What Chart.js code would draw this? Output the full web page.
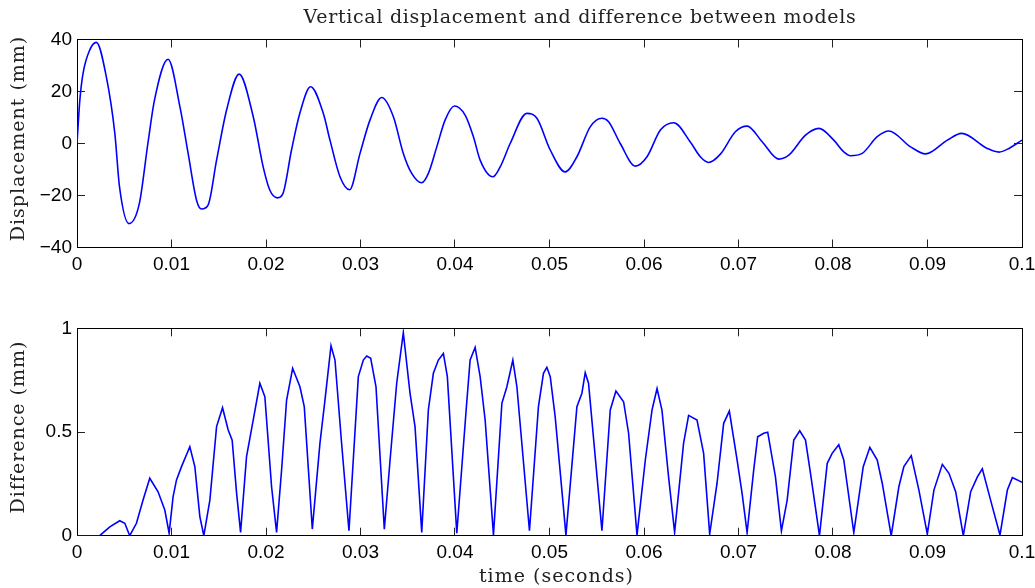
<!DOCTYPE html>
<html>
<head>
<meta charset="utf-8">
<script src="https://cdn.jsdelivr.net/npm/chart.js@4.4.1/dist/chart.umd.min.js"></script>
<style>
  html, body { margin: 0; padding: 0; background: #ffffff; }
  body { width: 1035px; height: 588px; position: relative; overflow: hidden; }
  #c1 { position: absolute; left: 0; top: 0; }
  #c2 { position: absolute; left: 0; top: 300px; }
</style>
</head>
<body>
<canvas id="c1" width="1035" height="292"></canvas>
<canvas id="c2" width="1035" height="288"></canvas>
<script>
// ---------- data ----------
const dispTime = [0,0.0003,0.00064,0.00135,0.00205,0.0031,0.004,0.0045,0.0055,0.0066,0.0075,0.0082,0.00964,0.0109,0.01176,0.01265,0.01318,0.01387,0.01477,0.01583,0.01716,0.01865,0.0197,0.0204,0.0212,0.0218,0.0227,0.02358,0.02472,0.02606,0.02677,0.02783,0.02885,0.02995,0.031,0.03225,0.03348,0.03453,0.03542,0.03648,0.03718,0.03807,0.03895,0.03994,0.04107,0.04195,0.04266,0.044,0.04478,0.04584,0.0476,0.04867,0.05008,0.05166,0.0529,0.05431,0.05555,0.05625,0.05749,0.05908,0.06032,0.06173,0.06314,0.0649,0.06596,0.06684,0.06808,0.06967,0.07091,0.0725,0.07426,0.07532,0.07709,0.0785,0.08008,0.08114,0.08185,0.08309,0.08468,0.08591,0.08821,0.0898,0.0921,0.09361,0.09633,0.09756,0.09862,0.1];
const dispValue = [0,16.7,27,36,38.9,25.7,4,-16.7,-30.8,-23,0,16.7,32.4,14,-3.8,-21.8,-25.2,-23.7,-6.4,12.9,26.7,10.3,-9,-17.9,-20.9,-19.2,-2.5,11.6,21.8,11.6,1.3,-12.8,-17.8,-3.8,9,17.7,10.3,-3.8,-11.5,-15.1,-11.5,-1.3,9,14.4,10.9,2.6,-6.4,-12.8,-9,0,11.6,9.7,-2.5,-10.9,-5.1,6.4,9.7,8.4,0,-8.7,-5.1,5.2,8,0.6,-5.1,-7.3,-4.1,4.5,6.7,0.7,-6,-4.5,3.2,5.8,1.3,-3.2,-4.7,-3.8,2.6,4.8,-1.3,-4,1.3,3.9,-1.9,-3.3,-1.9,1.3];

const diffTime = [0,0.0024,0.00347,0.00452,0.00506,0.00558,0.00629,0.00699,0.0077,0.00858,0.00929,0.00975,0.01017,0.01053,0.01106,0.01194,0.01247,0.013,0.01342,0.01406,0.01477,0.0154,0.016,0.01642,0.01689,0.01731,0.01794,0.01865,0.01935,0.01988,0.02059,0.02112,0.02165,0.02218,0.02282,0.02359,0.02405,0.0249,0.02571,0.02624,0.02688,0.0273,0.028,0.02878,0.02977,0.0303,0.03066,0.03108,0.03164,0.03252,0.03313,0.03383,0.03453,0.03524,0.03577,0.03648,0.03718,0.03771,0.03824,0.03877,0.03919,0.04019,0.04118,0.0416,0.04213,0.04266,0.04319,0.04407,0.04496,0.04549,0.04612,0.04655,0.04788,0.04883,0.04936,0.04972,0.05008,0.0506,0.05174,0.0529,0.05343,0.05378,0.05413,0.05555,0.05643,0.05703,0.05784,0.05837,0.05926,0.06014,0.06085,0.06138,0.0619,0.0626,0.06324,0.06419,0.06472,0.06561,0.06631,0.06695,0.06773,0.06843,0.06903,0.06985,0.07038,0.07091,0.07161,0.07203,0.07267,0.07309,0.07391,0.07454,0.07515,0.07585,0.07648,0.07709,0.07762,0.07857,0.07939,0.07991,0.08061,0.08114,0.0822,0.0832,0.0839,0.08468,0.08521,0.08616,0.08697,0.0875,0.08828,0.08909,0.08998,0.09068,0.09157,0.09227,0.09298,0.09379,0.09457,0.09528,0.0958,0.09686,0.09767,0.09845,0.09898,0.09951,0.1];
const diffValue = [0,0,0.043,0.072,0.06,0,0.06,0.172,0.277,0.212,0.124,0.012,0.188,0.269,0.333,0.429,0.333,0.092,0,0.172,0.526,0.617,0.51,0.461,0.204,0.016,0.381,0.558,0.735,0.67,0.236,0.016,0.317,0.654,0.807,0.718,0.622,0.032,0.446,0.654,0.916,0.847,0.446,0.024,0.767,0.847,0.866,0.855,0.718,0.031,0.365,0.735,0.979,0.687,0.526,0.016,0.606,0.783,0.847,0.879,0.767,0.012,0.606,0.847,0.908,0.767,0.558,0.003,0.638,0.718,0.847,0.718,0.024,0.622,0.783,0.812,0.767,0.574,0.003,0.622,0.687,0.786,0.735,0.024,0.606,0.698,0.646,0.494,0.003,0.365,0.606,0.709,0.606,0.284,0.016,0.446,0.58,0.558,0.397,0.008,0.253,0.542,0.601,0.365,0.204,0.015,0.317,0.477,0.494,0.499,0.284,0.023,0.172,0.461,0.506,0.461,0.301,0,0.349,0.397,0.439,0.365,0.015,0.333,0.426,0.365,0.253,0,0.236,0.333,0.386,0.22,0.008,0.22,0.344,0.301,0.212,0,0.212,0.284,0.323,0.14,0.003,0.22,0.28,0.269,0.257];

const xTickValues = [0,0.01,0.02,0.03,0.04,0.05,0.06,0.07,0.08,0.09,0.1];
const xTickLabels = ['0','0.01','0.02','0.03','0.04','0.05','0.06','0.07','0.08','0.09','0.1'];
const dispTickValues = [-40,-20,0,20,40];
const dispTickLabels = ['\u221240','\u221220','0','20','40'];
const diffTickValues = [0,0.5,1];
const diffTickLabels = ['0','0.5','1'];

const titleText = 'Vertical displacement and difference between models';
const dispAxisTitle = 'Displacement (mm)';
const diffAxisTitle = 'Difference (mm)';
const timeAxisTitle = 'time (seconds)';

// ---------- styling ----------
const SERIF = "'DejaVu Serif', serif";
const SANS = "'Liberation Sans', Arial, Helvetica, sans-serif";
const SERIF_SIZE = 19;
const TITLE_SPACING = '0.7px';
const AXIS_SPACING = '1px';
const TITLE_SHIFT_X = 69;   // the reference title sits right of centre
const Y_TITLE_SHIFT = -5;   // y titles sit a little above centre
const X_TITLE_SHIFT = 7;
const TICK_COLOR = '#222222';

const spacingPlugin = {
  id: 'spacing',
  afterLayout(chart) {
    const ctx = chart.ctx;
    const tb = chart.titleBlock;
    if (tb && !tb._spaced) {
      const d = tb.draw.bind(tb);
      tb.draw = function (a) { ctx.save(); ctx.letterSpacing = TITLE_SPACING; ctx.translate(TITLE_SHIFT_X, 0); d(a); ctx.restore(); };
      tb._spaced = true;
    }
    Object.values(chart.scales).forEach(s => {
      if (!s._spaced) {
        const d = s.drawTitle.bind(s);
        const horiz = s.isHorizontal();
        s.drawTitle = function () {
          ctx.save(); ctx.letterSpacing = AXIS_SPACING;
          if (horiz) ctx.translate(X_TITLE_SHIFT, 0); else ctx.translate(0, Y_TITLE_SHIFT);
          d(); ctx.restore();
        };
        s._spaced = true;
      }
    });
  }
};

function setTicks(values) {
  return function (scale) { scale.ticks = values.map(v => ({ value: v })); };
}
function labelFrom(values, labels) {
  return function (v) { const i = values.findIndex(t => Math.abs(t - v) < 1e-9); return i >= 0 ? labels[i] : ''; };
}

function mainX(height, showTitle) {
  return {
    type: 'linear', position: 'bottom', min: 0, max: 0.1,
    afterBuildTicks: setTicks(xTickValues),
    afterFit(s) { s.height = height; s.paddingLeft = 0; s.paddingRight = 0; },
    grid: { drawOnChartArea: false, drawTicks: true, tickLength: -8, color: TICK_COLOR, lineWidth: 1 },
    border: { display: true, color: '#000000', width: 1 },
    ticks: { autoSkip: false, maxRotation: 0, padding: 13.5, color: '#000000',
      font: { family: SANS, size: 19 }, callback: labelFrom(xTickValues, xTickLabels) },
    title: showTitle ? { display: true, text: timeAxisTitle, color: '#222222',
      font: { family: SERIF, size: SERIF_SIZE }, padding: { top: 0, bottom: 0 } } : { display: false }
  };
}
function topX() {
  return {
    type: 'linear', position: 'top', min: 0, max: 0.1,
    afterBuildTicks: setTicks(xTickValues),
    afterFit(s) { s.height = 0; s.paddingLeft = 0; s.paddingRight = 0; },
    grid: { drawOnChartArea: false, drawTicks: true, tickLength: -8, color: TICK_COLOR, lineWidth: 1 },
    border: { display: true, color: '#000000', width: 1 },
    ticks: { display: false }
  };
}
function mainY(min, max, vals, labs, title) {
  return {
    type: 'linear', position: 'left', min: min, max: max,
    afterBuildTicks: setTicks(vals),
    afterFit(s) { s.width = 77; s.paddingTop = 0; s.paddingBottom = 0; },
    grid: { drawOnChartArea: false, drawTicks: true, tickLength: -8, color: TICK_COLOR, lineWidth: 1 },
    border: { display: true, color: '#000000', width: 1 },
    ticks: { padding: 13, color: '#000000', font: { family: SANS, size: 19 }, callback: labelFrom(vals, labs) },
    title: { display: true, text: title, color: '#222222', font: { family: SERIF, size: SERIF_SIZE }, padding: { top: 8, bottom: 0 } }
  };
}
function rightY(min, max, vals) {
  return {
    type: 'linear', position: 'right', min: min, max: max,
    afterBuildTicks: setTicks(vals),
    afterFit(s) { s.width = 0; s.paddingTop = 0; s.paddingBottom = 0; },
    grid: { drawOnChartArea: false, drawTicks: true, tickLength: -8, color: TICK_COLOR, lineWidth: 1 },
    border: { display: true, color: '#000000', width: 1 },
    ticks: { display: false }
  };
}

Chart.defaults.animation = false;

new Chart(document.getElementById('c1'), {
  type: 'line',
  data: {
    datasets: [{
      data: dispTime.map((t, i) => ({ x: t, y: dispValue[i] })),
      borderColor: '#0000ff', borderWidth: 1.6, pointRadius: 0, fill: false,
      cubicInterpolationMode: 'monotone'
    }]
  },
  options: {
    responsive: false, devicePixelRatio: 1, animation: false,
    layout: { padding: { left: 0, right: 13, top: 0, bottom: 0 } },
    plugins: {
      legend: { display: false }, tooltip: { enabled: false },
      title: { display: true, text: titleText, color: '#222222', font: { family: SERIF, size: SERIF_SIZE, weight: 'normal' },
        padding: { top: 6.5, bottom: 10.2 } }
    },
    scales: {
      x: mainX(292 - 247.5, false),
      x2: topX(),
      y: mainY(-40, 40, dispTickValues, dispTickLabels, dispAxisTitle),
      y2: rightY(-40, 40, dispTickValues)
    }
  },
  plugins: [spacingPlugin]
});

new Chart(document.getElementById('c2'), {
  type: 'line',
  data: {
    datasets: [{
      data: diffTime.map((t, i) => ({ x: t, y: diffValue[i] })),
      borderColor: '#0000ff', borderWidth: 1.6, pointRadius: 0, fill: false, tension: 0
    }]
  },
  options: {
    responsive: false, devicePixelRatio: 1, animation: false,
    layout: { padding: { left: 0, right: 13, top: 28.3, bottom: 0 } },
    plugins: { legend: { display: false }, tooltip: { enabled: false }, title: { display: false } },
    scales: {
      x: mainX(288 - 235.7, true),
      x2: topX(),
      y: mainY(0, 1, diffTickValues, diffTickLabels, diffAxisTitle),
      y2: rightY(0, 1, diffTickValues)
    }
  },
  plugins: [spacingPlugin]
});
</script>
</body>
</html>
